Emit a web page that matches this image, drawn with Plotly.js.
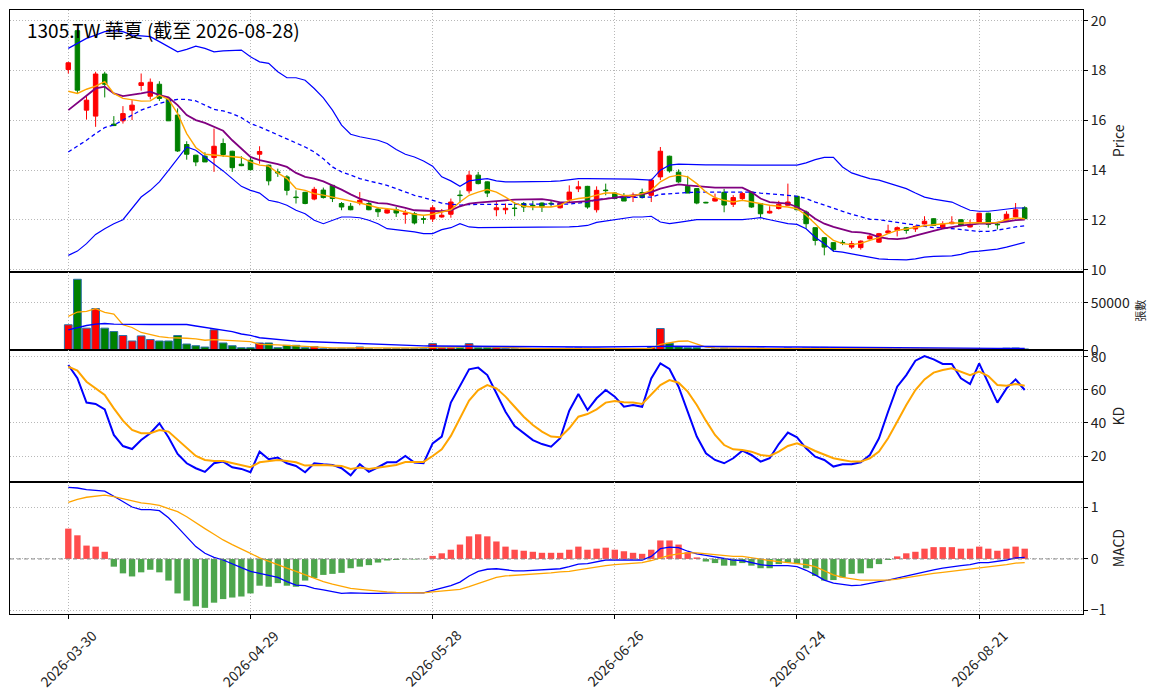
<!DOCTYPE html>
<html>
<head>
<meta charset="utf-8">
<script src="https://cdn.plot.ly/plotly-3.0.1.min.js"></script>
<style>
  html, body { margin: 0; padding: 0; background: #fff; }
  #chart { width: 1163px; height: 698px; }
</style>
</head>
<body>
<div id="chart"></div>
<script>
// trading days shown on the chart
const dates = [
    '2026-03-30', '2026-03-31',
    '2026-04-01', '2026-04-02', '2026-04-07', '2026-04-08', '2026-04-09', '2026-04-10',
    '2026-04-13', '2026-04-14', '2026-04-15', '2026-04-16', '2026-04-17',
    '2026-04-20', '2026-04-21', '2026-04-22', '2026-04-23', '2026-04-24',
    '2026-04-27', '2026-04-28', '2026-04-29', '2026-04-30',
    '2026-05-04', '2026-05-05', '2026-05-06', '2026-05-07', '2026-05-08',
    '2026-05-11', '2026-05-12', '2026-05-13', '2026-05-14', '2026-05-15',
    '2026-05-18', '2026-05-19', '2026-05-20', '2026-05-21', '2026-05-22',
    '2026-05-25', '2026-05-26', '2026-05-27', '2026-05-28', '2026-05-29',
    '2026-06-01', '2026-06-02', '2026-06-03', '2026-06-04', '2026-06-05',
    '2026-06-08', '2026-06-09', '2026-06-10', '2026-06-11', '2026-06-12',
    '2026-06-15', '2026-06-16', '2026-06-17', '2026-06-18',
    '2026-06-22', '2026-06-23', '2026-06-24', '2026-06-25', '2026-06-26',
    '2026-06-29', '2026-06-30',
    '2026-07-01', '2026-07-02', '2026-07-03',
    '2026-07-06', '2026-07-07', '2026-07-08', '2026-07-09', '2026-07-10',
    '2026-07-13', '2026-07-14', '2026-07-15', '2026-07-16', '2026-07-17',
    '2026-07-20', '2026-07-21', '2026-07-22', '2026-07-23', '2026-07-24',
    '2026-07-27', '2026-07-28', '2026-07-29', '2026-07-30', '2026-07-31',
    '2026-08-03', '2026-08-04', '2026-08-05', '2026-08-06', '2026-08-07',
    '2026-08-10', '2026-08-11', '2026-08-12', '2026-08-13', '2026-08-14',
    '2026-08-17', '2026-08-18', '2026-08-19', '2026-08-20', '2026-08-21',
    '2026-08-24', '2026-08-25', '2026-08-26', '2026-08-27', '2026-08-28'
]
const tickDates = ['2026-03-30', '2026-04-29', '2026-05-28', '2026-06-26', '2026-07-24', '2026-08-21']

// OHLC
const open = [
    18.04, 19.60, 16.41, 16.17, 17.86, 15.85, 15.98, 16.41, 17.40, 16.97,
    17.45, 16.84, 16.21, 15.03, 14.60, 14.56, 14.51, 15.07, 14.76, 14.24,
    14.40, 14.64, 14.20, 13.93, 13.73, 12.92, 13.11, 12.84, 13.20, 13.39,
    12.66, 12.55, 12.68, 12.66, 12.44, 12.28, 12.41, 12.23, 12.25, 12.05,
    12.04, 12.12, 12.23, 13.00, 13.17, 13.80, 13.53, 12.41, 12.41, 12.48,
    12.66, 12.59, 12.68, 12.67, 12.49, 12.81, 13.25, 13.35, 12.41, 13.20,
    13.08, 12.95, 12.93, 13.10, 12.99, 13.73, 14.56, 13.92, 13.35, 13.26,
    12.71, 12.76, 13.11, 12.63, 12.86, 13.12, 12.66, 12.28, 12.46, 12.59,
    12.95, 12.32, 11.69, 11.29, 11.09, 11.10, 10.91, 10.89, 11.24, 11.11,
    11.48, 11.58, 11.69, 11.64, 11.84, 12.05, 11.69, 11.85, 12.01, 11.72,
    11.90, 12.27, 11.83, 11.99, 12.12, 12.49
]
const high = [
    18.35, 19.65, 17.01, 17.95, 17.95, 16.17, 16.57, 16.81, 17.88, 17.68,
    17.57, 16.88, 16.48, 15.16, 14.62, 14.72, 15.67, 15.27, 14.78, 14.56,
    14.53, 14.96, 14.22, 14.06, 13.80, 13.19, 13.13, 13.33, 13.30, 13.40,
    12.72, 12.68, 13.12, 12.77, 12.52, 12.45, 12.52, 12.41, 12.32, 12.15,
    12.59, 12.44, 12.86, 13.19, 13.97, 13.93, 13.55, 12.72, 12.66, 12.72,
    12.72, 12.77, 12.70, 12.80, 12.72, 13.39, 13.57, 13.37, 13.35, 13.46,
    13.12, 13.08, 13.10, 13.26, 13.66, 14.93, 14.58, 14.03, 13.77, 13.28,
    12.73, 13.06, 13.25, 13.00, 13.12, 13.14, 12.68, 12.55, 12.77, 13.46,
    12.97, 12.38, 11.70, 11.31, 11.10, 11.19, 11.16, 11.18, 11.42, 11.48,
    11.81, 11.74, 11.72, 11.78, 12.15, 12.07, 11.95, 12.15, 12.03, 12.01,
    12.29, 12.29, 11.88, 12.35, 12.68, 12.55
]
const low = [
    17.88, 17.10, 16.03, 15.74, 16.92, 15.77, 15.87, 16.01, 17.19, 16.84,
    16.78, 15.98, 14.73, 14.42, 14.16, 14.33, 13.93, 14.53, 13.93, 14.16,
    13.99, 14.26, 13.39, 13.73, 12.99, 12.66, 12.63, 12.79, 12.86, 12.72,
    12.39, 12.39, 12.59, 12.39, 12.12, 12.25, 12.12, 11.85, 11.82, 11.85,
    11.92, 12.09, 12.09, 12.68, 13.06, 13.43, 12.92, 12.15, 12.23, 12.15,
    12.32, 12.39, 12.32, 12.52, 12.46, 12.72, 13.12, 12.45, 12.30, 12.99,
    12.86, 12.76, 12.72, 12.86, 12.72, 13.60, 13.90, 13.49, 13.08, 12.63,
    12.67, 12.74, 12.31, 12.52, 12.80, 12.49, 12.09, 12.26, 12.42, 12.57,
    12.39, 11.65, 10.98, 10.58, 10.72, 10.99, 10.84, 10.81, 11.21, 11.08,
    11.46, 11.34, 11.45, 11.52, 11.82, 11.76, 11.65, 11.83, 11.74, 11.70,
    11.88, 11.69, 11.62, 11.97, 12.10, 12.03
]
const close = [
    18.31, 17.21, 16.81, 17.86, 17.45, 15.79, 16.27, 16.61, 17.51, 17.53,
    16.88, 15.98, 14.77, 14.64, 14.33, 14.33, 14.96, 14.63, 14.10, 14.18,
    14.02, 14.75, 13.57, 13.89, 13.19, 12.90, 12.66, 13.23, 12.90, 12.86,
    12.52, 12.41, 12.79, 12.41, 12.33, 12.41, 12.28, 12.28, 11.88, 12.03,
    12.49, 12.19, 12.72, 12.98, 13.80, 13.46, 13.08, 12.49, 12.47, 12.46,
    12.52, 12.57, 12.52, 12.65, 12.68, 13.12, 13.33, 12.52, 13.19, 13.18,
    12.86, 12.76, 12.99, 12.90, 13.60, 14.76, 13.97, 13.53, 13.08, 12.68,
    12.69, 12.87, 12.60, 12.90, 13.06, 12.52, 12.25, 12.35, 12.63, 12.72,
    12.41, 11.85, 11.18, 10.91, 10.81, 11.08, 11.05, 11.15, 11.35, 11.45,
    11.56, 11.69, 11.58, 11.74, 11.95, 11.78, 11.84, 11.91, 11.78, 11.82,
    12.27, 11.82, 11.81, 12.23, 12.41, 12.05
]

// overlays on the price panel
const bbUpper = [
    18.89, 19.09, 19.29, 19.42, 19.56, 19.60, 19.56, 19.42, 19.38, 19.36,
    19.16, 18.96, 18.75, 18.85, 18.98, 18.89, 18.75, 18.79, 18.82, 18.82,
    18.55, 18.35, 18.29, 17.95, 17.71, 17.71, 17.61, 17.28, 16.90, 16.41,
    15.81, 15.44, 15.34, 15.27, 15.20, 15.07, 14.83, 14.64, 14.53, 14.37,
    14.16, 13.73, 13.57, 13.35, 13.57, 13.62, 13.66, 13.57, 13.53, 13.53,
    13.53, 13.53, 13.53, 13.55, 13.57, 13.62, 13.66, 13.66, 13.66, 13.66,
    13.66, 13.64, 13.64, 13.62, 13.60, 14.00, 14.20, 14.24, 14.22, 14.21,
    14.21, 14.21, 14.20, 14.20, 14.20, 14.20, 14.20, 14.20, 14.20, 14.20,
    14.20, 14.29, 14.42, 14.51, 14.51, 14.13, 13.89, 13.77, 13.66, 13.60,
    13.49, 13.35, 13.26, 13.08, 12.92, 12.84, 12.79, 12.72, 12.55, 12.39,
    12.35, 12.35, 12.39, 12.44, 12.48, 12.48
]
const bbMid = [
    14.73, 14.96, 15.20, 15.47, 15.71, 15.81, 16.01, 16.21, 16.41, 16.54,
    16.68, 16.78, 16.84, 16.84, 16.78, 16.61, 16.44, 16.38, 16.27, 16.11,
    15.87, 15.74, 15.58, 15.44, 15.27, 15.10, 14.93, 14.73, 14.46, 14.13,
    13.93, 13.80, 13.66, 13.57, 13.49, 13.39, 13.26, 13.12, 12.99, 12.90,
    12.79, 12.68, 12.63, 12.60, 12.62, 12.63, 12.63, 12.63, 12.63, 12.63,
    12.63, 12.63, 12.63, 12.63, 12.63, 12.64, 12.68, 12.72, 12.82, 12.86,
    12.90, 12.90, 12.90, 12.90, 12.92, 13.03, 13.06, 13.08, 13.10, 13.12,
    13.12, 13.12, 13.12, 13.12, 13.12, 13.12, 13.08, 13.06, 13.03, 12.99,
    12.95, 12.86, 12.72, 12.59, 12.45, 12.35, 12.23, 12.13, 12.03, 12.01,
    11.96, 11.90, 11.85, 11.78, 11.74, 11.69, 11.69, 11.65, 11.61, 11.56,
    11.54, 11.54, 11.58, 11.65, 11.72, 11.77
]
const bbLower = [
    10.58, 10.75, 11.05, 11.42, 11.65, 11.85, 12.01, 12.45, 12.92, 13.19,
    13.53, 13.99, 14.46, 14.93, 14.80, 14.53, 14.26, 13.97, 13.66, 13.35,
    13.19, 13.08, 12.79, 12.72, 12.59, 12.39, 12.25, 11.99, 11.85, 11.99,
    12.12, 12.12, 12.09, 11.99, 11.85, 11.65, 11.61, 11.58, 11.52, 11.45,
    11.45, 11.61, 11.69, 11.85, 11.72, 11.69, 11.69, 11.69, 11.69, 11.69,
    11.69, 11.69, 11.69, 11.69, 11.70, 11.72, 11.74, 11.78, 11.90, 11.96,
    12.01, 12.09, 12.12, 12.12, 12.15, 11.92, 11.85, 11.90, 11.96, 12.01,
    12.01, 12.01, 12.01, 12.01, 12.01, 12.05, 12.09, 12.01, 11.92, 11.85,
    11.82, 11.65, 11.31, 11.05, 10.75, 10.71, 10.64, 10.57, 10.50, 10.44,
    10.42, 10.40, 10.40, 10.44, 10.51, 10.54, 10.55, 10.56, 10.62, 10.72,
    10.75, 10.78, 10.83, 10.91, 11.02, 11.10
]
const ma5 = [
    17.17, 17.08, 17.25, 17.37, 17.55, 17.08, 16.88, 16.81, 16.77, 16.78,
    17.01, 16.84, 16.27, 15.47, 14.91, 14.64, 14.60, 14.57, 14.53, 14.51,
    14.33, 14.20, 14.16, 13.89, 13.66, 13.26, 13.19, 13.06, 13.00, 12.92,
    12.86, 12.79, 12.68, 12.59, 12.49, 12.45, 12.41, 12.32, 12.23, 12.19,
    12.23, 12.32, 12.41, 12.72, 12.99, 13.12, 13.22, 13.12, 12.92, 12.68,
    12.55, 12.52, 12.52, 12.52, 12.59, 12.79, 12.86, 12.90, 13.00, 13.08,
    13.08, 12.98, 12.98, 13.06, 13.19, 13.53, 13.73, 13.80, 13.73, 13.46,
    13.12, 12.90, 12.79, 12.72, 12.79, 12.72, 12.66, 12.59, 12.55, 12.52,
    12.45, 12.19, 11.85, 11.48, 11.18, 11.05, 11.01, 11.06, 11.18, 11.29,
    11.45, 11.58, 11.64, 11.72, 11.77, 11.81, 11.85, 11.88, 11.88, 11.88,
    11.90, 11.90, 11.90, 12.01, 12.09, 12.05
]
const ma10 = [
    16.41, 16.70, 16.97, 17.28, 17.35, 17.08, 16.97, 17.01, 17.08, 17.15,
    17.01, 16.92, 16.61, 16.21, 16.01, 15.90, 15.74, 15.58, 15.20, 14.87,
    14.53, 14.40, 14.33, 14.24, 14.13, 13.89, 13.73, 13.66, 13.55, 13.39,
    13.22, 13.03, 12.86, 12.76, 12.68, 12.66, 12.59, 12.49, 12.39, 12.36,
    12.36, 12.35, 12.39, 12.55, 12.66, 12.70, 12.72, 12.76, 12.79, 12.82,
    12.82, 12.84, 12.84, 12.79, 12.71, 12.71, 12.72, 12.76, 12.80, 12.86,
    12.92, 12.95, 12.99, 13.03, 13.12, 13.26, 13.35, 13.43, 13.39, 13.35,
    13.33, 13.30, 13.30, 13.30, 13.30, 13.12, 12.86, 12.72, 12.68, 12.66,
    12.52, 12.32, 12.05, 11.85, 11.72, 11.61, 11.52, 11.50, 11.44, 11.31,
    11.25, 11.23, 11.27, 11.37, 11.48, 11.56, 11.65, 11.72, 11.77, 11.81,
    11.85, 11.85, 11.88, 11.93, 11.99, 12.01
]

// volume (張)
const volume = [
    26800, 75000, 23200, 43900, 23200, 19600, 15400, 9600, 15000, 11100,
    9600, 9600, 15400, 6400, 4600, 3200, 21400, 7500, 4600, 2500,
    2500, 7500, 7500, 2500, 5000, 5000, 2500, 3600, 1400, 1400,
    1800, 1800, 3200, 1400, 1000, 1400, 1400, 1400, 1400, 1400,
    6800, 2500, 2500, 2500, 6800, 2500, 2500, 2500, 1800, 1400,
    1100, 1000, 1100, 1400, 1200, 2000, 2200, 1800, 1800, 1400,
    1500, 1200, 1000, 1400, 2800, 22800, 7100, 3500, 2500, 2500,
    800, 1200, 2000, 1500, 1400, 1800, 2000, 900, 1200, 2200,
    1500, 2200, 2500, 2800, 2000, 1000, 1200, 1500, 1000, 1300,
    1200, 1000, 900, 900, 1100, 1100, 900, 1000, 900, 800,
    1300, 1200, 900, 2000, 2200, 1200
]
const volMa5 = [
    35700, 40300, 41000, 43900, 40000, 38200, 26800, 23900, 18600, 16100,
    14300, 13200, 13200, 12500, 11800, 10400, 11100, 10700, 10400, 9600,
    8900, 6100, 5400, 5400, 5000, 4300, 3900, 3200, 2900, 2400,
    2300, 2300, 2300, 2300, 2200, 2200, 2300, 2300, 2300, 2300,
    2800, 3200, 3200, 3200, 4000, 3500, 3400, 3200, 2800, 2200,
    1800, 1600, 1500, 1500, 1500, 1600, 1700, 1800, 1800, 1700,
    1600, 1500, 1500, 1500, 1800, 6000, 8000, 9300, 9600, 6000,
    3000, 2200, 2000, 1900, 1800, 1800, 1700, 1600, 1600, 1700,
    1800, 1900, 2100, 2300, 2300, 2200, 1900, 1700, 1400, 1300,
    1300, 1200, 1100, 1100, 1000, 1000, 1000, 1000, 1000, 950,
    1000, 1050, 1100, 1300, 1500, 1500
]
const volMa20 = [
    21400, 23900, 26000, 27500, 28200, 27500, 27200, 27000, 27000, 27000,
    27000, 27000, 27500, 27000, 25500, 24000, 22000, 21000, 19500, 17000,
    15500, 13000, 12000, 11000, 10000, 9500, 9000, 8600, 8200, 7800,
    7400, 7100, 6700, 6300, 6000, 5600, 5200, 4900, 4600, 4400,
    4300, 4200, 4100, 4000, 4000, 3900, 3800, 3700, 3600, 3500,
    3400, 3400, 3300, 3300, 3300, 3200, 3200, 3200, 3200, 3200,
    3200, 3200, 3200, 3300, 3400, 3900, 4000, 4000, 4000, 3900,
    3900, 3900, 3800, 3800, 3800, 3700, 3600, 3500, 3400, 3300,
    3200, 3100, 3000, 2900, 2800, 2700, 2600, 2500, 2400, 2400,
    2300, 2300, 2200, 2200, 2100, 2100, 2000, 2000, 2000, 1900,
    1900, 1900, 1800, 1800, 1800, 1800
]

// KD
const kValues = [
    75.0, 67.0, 52.3, 51.5, 48.2, 32.8, 26.1, 24.3, 29.7, 33.8,
    39.8, 31.4, 21.3, 15.7, 12.7, 10.5, 15.7, 16.7, 13.3, 12.3,
    10.3, 22.7, 18.1, 19.1, 15.7, 14.1, 10.3, 15.7, 15.1, 14.7,
    12.7, 8.4, 15.1, 10.5, 13.3, 16.3, 16.3, 20.1, 16.1, 15.7,
    27.7, 31.8, 52.3, 62.3, 72.4, 73.4, 68.9, 57.9, 46.8, 38.2,
    33.8, 29.7, 27.3, 25.7, 30.8, 47.4, 57.5, 47.8, 54.9, 59.9,
    55.9, 49.8, 50.9, 49.8, 66.9, 76.0, 72.6, 61.9, 46.8, 31.8,
    21.7, 17.7, 15.7, 18.7, 23.3, 20.7, 16.7, 18.7, 27.3, 34.2,
    31.4, 24.7, 19.7, 17.7, 13.7, 15.1, 15.1, 16.3, 20.7, 30.8,
    46.8, 61.9, 68.9, 77.6, 80.4, 78.4, 75.6, 75.6, 66.9, 63.5,
    76.0, 63.9, 52.3, 60.9, 66.3, 59.9
]
const dValues = [
    74.0, 71.6, 64.9, 60.9, 56.9, 48.8, 41.4, 35.8, 33.8, 33.8,
    35.8, 34.8, 29.7, 24.7, 20.1, 17.7, 17.1, 17.1, 15.7, 14.7,
    13.3, 16.3, 17.1, 17.7, 17.1, 16.3, 14.3, 14.7, 14.7, 14.3,
    14.1, 12.3, 13.1, 12.3, 13.1, 14.1, 14.7, 16.5, 16.5, 16.5,
    20.1, 24.1, 32.2, 42.8, 53.5, 59.9, 62.9, 60.9, 55.9, 49.8,
    43.8, 38.8, 34.8, 31.8, 31.4, 36.8, 43.8, 45.4, 48.2, 52.3,
    53.3, 52.5, 52.3, 51.5, 56.9, 62.9, 65.9, 64.3, 58.9, 50.9,
    41.4, 32.8, 26.7, 24.1, 23.7, 22.7, 20.7, 20.1, 22.7, 26.1,
    27.7, 25.7, 23.1, 20.7, 18.7, 17.7, 16.7, 16.7, 18.7, 22.7,
    30.8, 40.8, 50.9, 59.9, 66.3, 70.4, 72.0, 73.0, 71.0, 68.9,
    71.0, 68.3, 62.9, 62.5, 63.5, 62.5
]

// MACD
const macdLine = [
    1.39, 1.38, 1.35, 1.33, 1.32, 1.22, 1.11, 1.01, 0.96, 0.96,
    0.94, 0.80, 0.62, 0.42, 0.24, 0.11, 0.03, -0.02, -0.10, -0.17,
    -0.24, -0.28, -0.33, -0.36, -0.44, -0.51, -0.52, -0.57, -0.60, -0.64,
    -0.67, -0.66, -0.67, -0.67, -0.67, -0.66, -0.66, -0.66, -0.66, -0.66,
    -0.61, -0.56, -0.52, -0.45, -0.33, -0.24, -0.20, -0.19, -0.21, -0.23,
    -0.23, -0.22, -0.22, -0.21, -0.19, -0.15, -0.10, -0.09, -0.05, -0.02,
    -0.02, -0.02, -0.02, -0.02, 0.05, 0.20, 0.23, 0.22, 0.15, 0.10,
    0.07, 0.04, 0.01, -0.02, -0.03, -0.07, -0.11, -0.13, -0.13, -0.13,
    -0.15, -0.22, -0.31, -0.41, -0.47, -0.50, -0.52, -0.51, -0.47, -0.44,
    -0.41, -0.37, -0.33, -0.28, -0.24, -0.21, -0.18, -0.15, -0.13, -0.11,
    -0.07, -0.07, -0.05, -0.02, 0.02, 0.03
]
const signalLine = [
    1.10, 1.16, 1.20, 1.22, 1.24, 1.21, 1.17, 1.13, 1.09, 1.07,
    1.04, 0.98, 0.92, 0.82, 0.70, 0.59, 0.48, 0.37, 0.28, 0.20,
    0.11, 0.02, -0.05, -0.11, -0.18, -0.24, -0.31, -0.38, -0.44, -0.49,
    -0.53, -0.57, -0.59, -0.61, -0.63, -0.64, -0.65, -0.65, -0.66, -0.66,
    -0.64, -0.62, -0.61, -0.59, -0.54, -0.48, -0.41, -0.36, -0.33, -0.32,
    -0.31, -0.29, -0.28, -0.27, -0.25, -0.24, -0.21, -0.18, -0.15, -0.13,
    -0.11, -0.10, -0.08, -0.07, -0.03, 0.02, 0.07, 0.10, 0.12, 0.12,
    0.10, 0.08, 0.07, 0.05, 0.05, 0.02, -0.01, -0.03, -0.05, -0.07,
    -0.08, -0.11, -0.15, -0.23, -0.31, -0.36, -0.39, -0.41, -0.41, -0.41,
    -0.41, -0.39, -0.36, -0.33, -0.31, -0.28, -0.26, -0.24, -0.22, -0.20,
    -0.18, -0.15, -0.13, -0.11, -0.08, -0.07
]
const macdHist = [
    0.59, 0.46, 0.26, 0.24, 0.14, -0.15, -0.28, -0.34, -0.26, -0.21,
    -0.26, -0.42, -0.67, -0.81, -0.92, -0.95, -0.85, -0.78, -0.75, -0.73,
    -0.67, -0.52, -0.54, -0.47, -0.52, -0.54, -0.42, -0.37, -0.31, -0.29,
    -0.27, -0.18, -0.15, -0.12, -0.07, -0.03, -0.02, -0.01, -0.01, -0.005,
    0.06, 0.11, 0.18, 0.28, 0.44, 0.48, 0.44, 0.34, 0.24, 0.18,
    0.16, 0.14, 0.12, 0.12, 0.12, 0.18, 0.24, 0.18, 0.20, 0.22,
    0.18, 0.15, 0.12, 0.10, 0.18, 0.36, 0.36, 0.28, 0.13, 0.03,
    -0.05, -0.08, -0.13, -0.13, -0.08, -0.13, -0.18, -0.18, -0.10, -0.07,
    -0.10, -0.18, -0.33, -0.42, -0.41, -0.36, -0.29, -0.28, -0.18, -0.10,
    -0.02, 0.05, 0.11, 0.14, 0.20, 0.23, 0.23, 0.23, 0.20, 0.20,
    0.24, 0.20, 0.16, 0.20, 0.24, 0.20
]

const FONT = '"Noto Sans CJK TC", "Noto Sans", "DejaVu Sans", sans-serif'
const UP = '#ff0000'
const DOWN = '#008000'

function buildTraces() {
    const x = dates.map((d, i) => i)

    const candles = {
        type: 'candlestick',
        x, open, high, low, close,
        xaxis: 'x', yaxis: 'y',
        increasing: { line: { color: UP, width: 1 }, fillcolor: UP },
        decreasing: { line: { color: DOWN, width: 1 }, fillcolor: DOWN },
        whiskerwidth: 0,
        hoverinfo: 'skip'
    }

    const line = (y, color, width, dash, ax) => ({
        type: 'scatter', mode: 'lines', x, y,
        xaxis: 'x' + ax, yaxis: 'y' + ax,
        line: { color, width, dash: dash || 'solid' },
        hoverinfo: 'skip'
    })

    const volColors = close.map((c, i) => c >= open[i] ? UP : DOWN)
    const volBars = {
        type: 'bar', x, y: volume,
        xaxis: 'x2', yaxis: 'y2',
        width: 0.85,
        marker: { color: volColors, line: { color: '#2a6fa8', width: 1 } },
        hoverinfo: 'skip'
    }

    const histColors = macdHist.map(v => v >= 0 ? '#ff4d4d' : '#4da64d')
    const histBars = {
        type: 'bar', x, y: macdHist,
        xaxis: 'x4', yaxis: 'y4',
        width: 0.7,
        marker: { color: histColors },
        hoverinfo: 'skip'
    }

    return [
        line(bbUpper, '#0000ff', 1.2, null, ''),
        line(bbLower, '#0000ff', 1.2, null, ''),
        line(bbMid, '#0000ff', 1.3, '4px,3px', ''),
        line(ma10, '#800080', 1.8, null, ''),
        line(ma5, '#ffa500', 1.4, null, ''),
        candles,
        volBars,
        line(volMa5, '#ffa500', 1.3, null, '2'),
        line(volMa20, '#0000ff', 1.4, null, '2'),
        line(kValues, '#0000ff', 2, null, '3'),
        line(dValues, '#ffa500', 2, null, '3'),
        histBars,
        line(macdLine, '#0000ff', 1.3, null, '4'),
        line(signalLine, '#ffa500', 1.3, null, '4')
    ]
}

function plotChart() {
    const tickIdx = tickDates.map(d => dates.indexOf(d))
    const grid = { showgrid: true, gridcolor: '#b8b8b8', griddash: '1px,2px', gridwidth: 1 }

    const xBase = (anchor, bottom) => ({
        ...grid,
        anchor,
        domain: [0, 1],
        range: [-6.4, 111.4],
        tickvals: tickIdx,
        showticklabels: false,
        ticks: bottom ? 'outside' : '',
        ticklen: 4,
        tickcolor: '#000',
        showline: true, mirror: true, linecolor: '#000', linewidth: 1,
        zeroline: false,
        fixedrange: true
    })

    const yBase = (domain, range, tickvals, title, titleSize) => ({
        ...grid,
        domain, range, tickvals,
        side: 'right',
        ticks: 'outside', ticklen: 4, tickcolor: '#000',
        tickfont: { size: 14, color: '#222' },
        showline: true, mirror: true, linecolor: '#000', linewidth: 1,
        zeroline: false,
        title: { text: title, font: { size: titleSize, color: '#222' }, standoff: 8 },
        fixedrange: true
    })

    const annotations = tickIdx.map((idx, k) => ({
        x: idx, xref: 'x4',
        y: 0, yref: 'paper',
        yshift: -44,
        xanchor: 'center', yanchor: 'middle',
        text: tickDates[k],
        textangle: -45,
        showarrow: false,
        font: { size: 14, color: '#222' }
    }))
    annotations.push({
        x: 0.014, xref: 'paper', y: 0.967, yref: 'paper',
        xanchor: 'left', yanchor: 'middle',
        text: '1305.TW 華夏 (截至 2026-08-28)',
        showarrow: false,
        font: { size: 19, color: '#000' }
    })

    const layout = {
        width: 1163,
        height: 698,
        margin: { l: 10, r: 80, t: 10, b: 84 },
        paper_bgcolor: '#ffffff',
        plot_bgcolor: '#ffffff',
        font: { family: FONT, color: '#222' },
        showlegend: false,
        bargap: 0.15,
        xaxis: { ...xBase('y', false), rangeslider: { visible: false } },
        xaxis2: { ...xBase('y2', false), matches: 'x' },
        xaxis3: { ...xBase('y3', false), matches: 'x' },
        xaxis4: { ...xBase('y4', true), matches: 'x' },
        yaxis: yBase([0.567, 1], [9.93, 20.43], [10, 12, 14, 16, 18, 20], 'Price', 14),
        yaxis2: { ...yBase([0.437, 0.567], [0, 83200], [0, 50000], '張數', 11), tickformat: 'd' },
        yaxis3: yBase([0.218, 0.437], [4.2, 84], [20, 40, 60, 80], 'KD', 14),
        yaxis4: yBase([0, 0.218], [-1.07, 1.49], [-1, 0, 1], 'MACD', 14),
        shapes: [{
            type: 'line', xref: 'paper', x0: 0, x1: 1,
            yref: 'y4', y0: 0, y1: 0,
            line: { color: '#888', width: 1, dash: '4px,3px' }
        }],
        annotations
    }

    Plotly.newPlot('chart', buildTraces(), layout, { staticPlot: true, displayModeBar: false })
}

plotChart()
</script>
</body>
</html>
